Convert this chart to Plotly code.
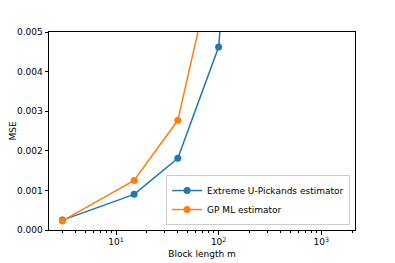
import plotly.graph_objects as go

block_length = [3, 15, 40, 100, 200]
u_pickands_mse = [0.00025, 0.00090, 0.00181, 0.00462, 0.0140]
gp_ml_mse = [0.00023, 0.00125, 0.00277, 0.0073, 0.0200]

x_tick_vals = [10, 100, 1000]
x_tick_text = ["10<sup>1</sup>", "10<sup>2</sup>", "10<sup>3</sup>"]
y_tick_vals = [0, 0.001, 0.002, 0.003, 0.004, 0.005]

fig = go.Figure()
fig.add_trace(go.Scatter(x=block_length, y=u_pickands_mse, mode="lines+markers",
                         name="Extreme U-Pickands estimator",
                         line=dict(color="#1f77b4", width=1.5),
                         marker=dict(color="#1f77b4", size=7), cliponaxis=True))
fig.add_trace(go.Scatter(x=block_length, y=gp_ml_mse, mode="lines+markers",
                         name="GP ML estimator",
                         line=dict(color="#ff7f0e", width=1.5),
                         marker=dict(color="#ff7f0e", size=7), cliponaxis=True))

fig.update_layout(
    width=395, height=263,
    margin=dict(l=41, r=48, t=24, b=41),
    paper_bgcolor="white", plot_bgcolor="white",
    font=dict(family="DejaVu Sans", size=9, color="black"),
    showlegend=True,
    legend=dict(x=0.984, y=0.025, xanchor="right", yanchor="bottom",
                bgcolor="rgba(255,255,255,0.8)", bordercolor="#cccccc", borderwidth=1,
                font=dict(size=9), tracegroupgap=0, itemwidth=30),
    xaxis=dict(type="log", range=[0.346, 3.33], tickvals=x_tick_vals, ticktext=x_tick_text,
               automargin=False,
               showgrid=False, zeroline=False, showline=True, linecolor="black", linewidth=1,
               mirror=True, ticks="outside", ticklen=3.5, tickcolor="black",
               minor=dict(ticks="outside", ticklen=2, tickcolor="black", dtick="D1", showgrid=False),
               title=dict(text="Block length m", font=dict(size=9), standoff=4)),
    yaxis=dict(range=[0, 0.005], tickvals=y_tick_vals, tickformat=".3f",
               automargin=False,
               showgrid=False, zeroline=False, showline=True, linecolor="black", linewidth=1,
               mirror=True, ticks="outside", ticklen=3.5, tickcolor="black",
               title=dict(text="MSE", font=dict(size=9), standoff=9)),
)

fig.write_html("out.html")
